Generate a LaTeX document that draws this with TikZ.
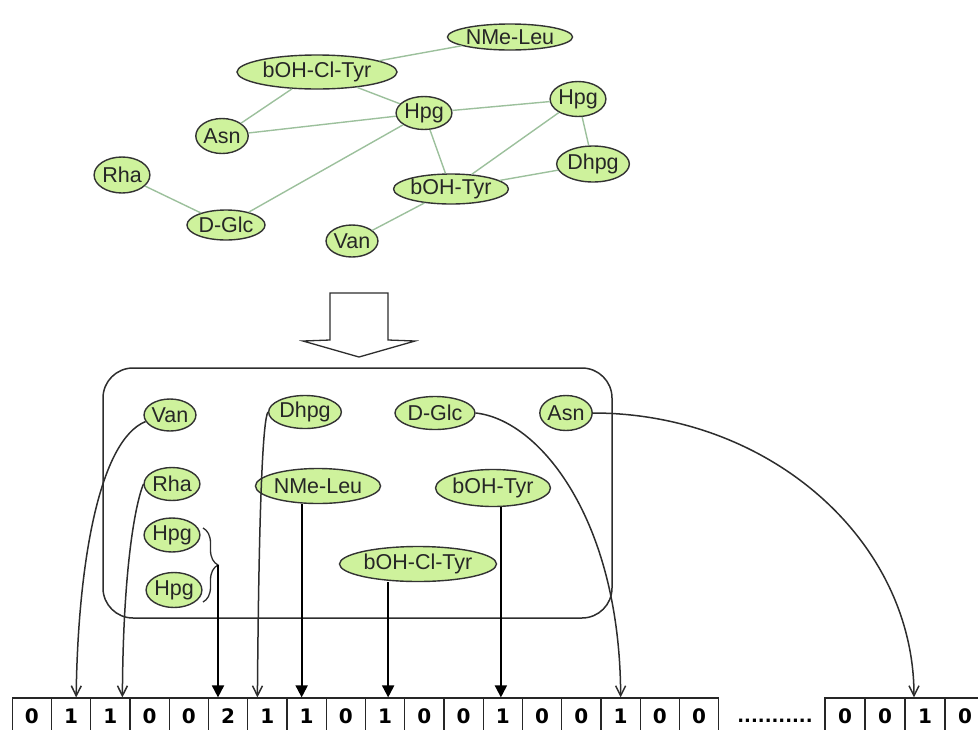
\documentclass[tikz,border=0pt]{standalone}
\usepackage{fontspec}
\setmainfont{Liberation Sans}
\newfontfamily\cellfont{DejaVu Sans}
\usepackage{xcolor}
\usepackage{tikz}
\usetikzlibrary{arrows.meta,shapes.geometric,decorations.pathreplacing}
\definecolor{nodegreen}{RGB}{206,242,156}
\definecolor{edgegreen}{RGB}{156,192,156}
\definecolor{linegray}{RGB}{45,45,45}
\tikzset{
  aanode/.style={ellipse,draw=black!80,fill=nodegreen,line width=1.4pt,inner sep=0pt,
    text=black!85,font=\fontsize{21.5}{23}\selectfont},
  aaedge/.style={draw=edgegreen,line width=1.4pt},
  bitcell/.style={rectangle,draw=black!85,line width=1.2pt,inner sep=0pt,
    minimum width=39.25pt,minimum height=36pt,font=\cellfont\bfseries\fontsize{20}{22}\selectfont},
  curvearrow/.style={draw=linegray,line width=1.5pt,-{Straight Barb[length=10pt,width=10pt]}},
  bararrow/.style={draw=black,line width=1.8pt,-{Triangle[length=12pt,width=12pt]}}
}

\begin{document}
\begin{tikzpicture}[x=1pt,y=-1pt]
  \clip (0,0) rectangle (978,729);
  % graph of the building blocks
  \node[aanode,minimum width=112pt,minimum height=26pt] (tleu) at (510,37) {NMe-Leu};
  \node[aanode,minimum width=160pt,minimum height=34pt] (tclt) at (317,72) {bOH-Cl-Tyr};
  \node[aanode,minimum width=48pt,minimum height=33pt] (thpga) at (424,113) {Hpg};
  \node[aanode,minimum width=49pt,minimum height=35pt] (thpgb) at (578,99) {Hpg};
  \node[aanode,minimum width=49pt,minimum height=35pt] (tasn) at (222,136) {Asn};
  \node[aanode,minimum width=65pt,minimum height=36pt] (tdhpg) at (593,164) {Dhpg};
  \node[aanode,minimum width=47pt,minimum height=36pt] (trha) at (122,175) {Rha};
  \node[aanode,minimum width=112pt,minimum height=30pt] (ttyr) at (451,189) {bOH-Tyr};
  \node[aanode,minimum width=78pt,minimum height=30pt] (tglc) at (226,225) {D-Glc};
  \node[aanode,minimum width=49pt,minimum height=32pt] (tvan) at (352,241) {Van};
  \draw[aaedge] (tleu) -- (tclt);
  \draw[aaedge] (tclt) -- (tasn);
  \draw[aaedge] (tclt) -- (thpga);
  \draw[aaedge] (thpga) -- (tasn);
  \draw[aaedge] (thpga) -- (tglc);
  \draw[aaedge] (thpga) -- (thpgb);
  \draw[aaedge] (thpga) -- (ttyr);
  \draw[aaedge] (thpgb) -- (ttyr);
  \draw[aaedge] (thpgb) -- (tdhpg);
  \draw[aaedge] (tdhpg) -- (ttyr);
  \draw[aaedge] (trha) -- (tglc);
  \draw[aaedge] (ttyr) -- (tvan);
  % block arrow and the set
  \draw[draw=linegray,line width=1.3pt] (330,293) -- (388,293) -- (388,340) -- (415,341)
    -- (359,357) -- (303,341) -- (330,340) -- cycle;
  \draw[draw=linegray,line width=1.5pt,rounded corners=30pt] (103,368) rectangle (612,618);
  \node[aanode,minimum width=46pt,minimum height=32pt] (van) at (170,415) {Van};
  \node[aanode,minimum width=65pt,minimum height=33pt] (dhpg) at (305,412) {Dhpg};
  \node[aanode,minimum width=80pt,minimum height=33pt] (glc) at (435,413) {D-Glc};
  \node[aanode,minimum width=48pt,minimum height=35pt] (asn) at (566,413) {Asn};
  \node[aanode,minimum width=47pt,minimum height=33pt] (rha) at (172,484) {Rha};
  \node[aanode,minimum width=110pt,minimum height=35pt] (leu) at (318,486) {NMe-Leu};
  \node[aanode,minimum width=113pt,minimum height=37pt] (tyr) at (493,488) {bOH-Tyr};
  \node[aanode,minimum width=48pt,minimum height=34pt] (hpga) at (172,535) {Hpg};
  \node[aanode,minimum width=48pt,minimum height=35pt] (hpgb) at (174,590) {Hpg};
  \node[aanode,minimum width=157pt,minimum height=35pt] (clt) at (418,564) {bOH-Cl-Tyr};
  % fingerprint
  \foreach \v [count=\i from 0] in {0,1,1,0,0,2,1,1,0,1,0,0,1,0,0,1,0,0}
    \node[bitcell] (c\i) at ({31.9+39.25*\i},716) {\v};
  \foreach \v [count=\i from 0] in {0,0,1,0}
    \node[bitcell,minimum width=40pt] (d\i) at ({845+40*\i},716) {\v};
  \node[anchor=base,font=\cellfont\bfseries\fontsize{18}{20}\selectfont] (dots) at (775,722) {...........};
  \coordinate (t1) at ([xshift=5pt]c1.north);
  \coordinate (t2) at ([xshift=12pt]c2.north);
  \coordinate (t5) at ([xshift=-10pt]c5.north);
  \coordinate (t6) at ([xshift=-10pt]c6.north);
  \coordinate (t7) at ([xshift=-5pt]c7.north);
  \coordinate (t9) at ([xshift=3pt]c9.north);
  \coordinate (t12) at ([xshift=-2pt]c12.north);
  \coordinate (t15) at (c15.north);
  \coordinate (u2) at ([xshift=-11pt]d2.north);
  % brace over the two Hpg
  \coordinate (brtop) at (203,528);
  \coordinate (brbot) at (203,602);
  \coordinate (brtip) at (218,565);
  \draw[draw=linegray,line width=1.3pt,decorate,decoration={brace,amplitude=15pt}] (brtop) -- (brbot);
  % arrows to the bits
  \draw[curvearrow] (van.195) .. controls (100,440) and (78,560) .. (t1);
  \draw[curvearrow] (rha.west) .. controls (135,505) and (123,570) .. (t2);
  \draw[curvearrow] (dhpg.west) .. controls (263,420) and (259,500) .. (t6);
  \draw[curvearrow] (glc.east) .. controls (540,420) and (620,520) .. (t15);
  \draw[curvearrow] (asn.east) .. controls (770,413) and (914,541) .. (u2);
  \draw[bararrow] (brtip) -- (brtip |- t5);
  \draw[bararrow] (leu.south -| t7) -- (t7);
  \draw[bararrow] (clt.south -| t9) -- (t9);
  \draw[bararrow] (tyr.south -| t12) -- (t12);
\end{tikzpicture}
\end{document}
